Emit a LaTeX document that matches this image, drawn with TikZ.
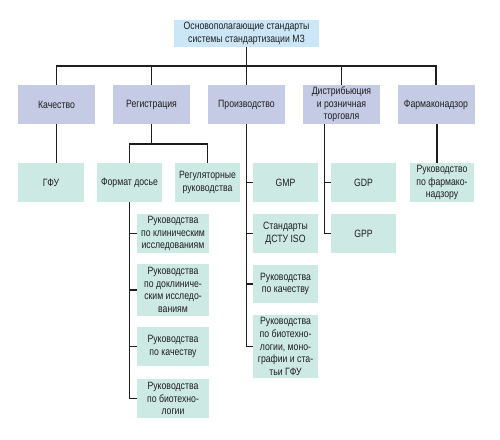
\documentclass[tikz,border=0pt]{standalone}
\usepackage{fontspec}
\newfontfamily\cond{Liberation Sans}[FakeStretch=0.82]
\definecolor{topc}{HTML}{CBE6F6}
\definecolor{lvtwo}{HTML}{C5CBE5}
\definecolor{lvthree}{HTML}{CDE9E3}
\definecolor{ink}{HTML}{1E1E1E}
\begin{document}
\begin{tikzpicture}[x=1pt,y=-1pt,
  box/.style={inner sep=0pt, align=center, text=ink,
    font=\cond\fontsize{10.6}{12.6}\selectfont},
  topbox/.style={box, fill=topc, minimum width=145pt, minimum height=27pt},
  twobox/.style={box, fill=lvtwo, minimum width=77pt, minimum height=39pt},
  threebox/.style={box, fill=lvthree, minimum height=39pt},
  conn/.style={draw=ink, line width=1.5pt}]
\useasboundingbox (0,0) rectangle (500,439);

\node[topbox] (top) at (246.5,33.5) {Основополагающие стандарты\\системы стандартизации МЗ};

\node[twobox] (kach) at (56.5,104.5) {Качество};
\node[twobox] (reg) at (151.5,104.5) {Регистрация};
\node[twobox] (proiz) at (246.5,104.5) {Производство};
\node[twobox] (dist) at (341.5,104.5) {Дистрибьюция\\и розничная\\торговля};
\node[twobox] (farm) at (436,104.5) {Фармаконадзор};

\node[threebox, minimum width=66pt] (gfu) at (51,182.5) {ГФУ};
\node[threebox, minimum width=65pt] (fmt) at (129.5,182.5) {Формат досье};
\node[threebox, minimum width=65pt] (rgl) at (207.5,182.5) {Регуляторные\\руководства};
\node[threebox, minimum width=65pt] (gmp) at (285.5,182.5) {GMP};
\node[threebox, minimum width=65pt] (gdp) at (363.5,182.5) {GDP};
\node[threebox, minimum width=64pt] (fv) at (442,182.5) {Руководство\\по фармако-\\надзору};

\node[threebox, minimum width=72pt] (fa) at (173,233.5) {Руководства\\по клиническим\\исследованиям};
\node[threebox, minimum width=72pt, minimum height=52pt] (fb) at (173,290) {Руководства\\по доклиниче-\\ским исследо-\\ваниям};
\node[threebox, minimum width=72pt] (fc) at (173,346.5) {Руководства\\по качеству};
\node[threebox, minimum width=72pt] (fd) at (173,398.5) {Руководства\\по биотехно-\\логии};

\node[threebox, minimum width=65pt] (pb) at (285.5,233.5) {Стандарты\\ДСТУ ISO};
\node[threebox, minimum width=65pt, minimum height=38pt] (pc) at (285.5,284) {Руководства\\по качеству};
\node[threebox, minimum width=65pt, minimum height=63pt] (pd) at (285.5,346.5) {Руководства\\по биотехно-\\логии, моно-\\графии и ста-\\тьи ГФУ};

\node[threebox, minimum width=65pt] (gpp) at (363.5,233.5) {GPP};

\coordinate (bus) at (0,66);
\coordinate (split) at (0,144);
\coordinate (dx) at (324.5,124);
\coordinate (fx) at (437,124);

% top bus
\draw[conn] (top.south) -- (top.south |- bus);
\draw[conn] (kach.north) |- (farm.north |- bus) -- (farm.north);
\draw[conn] (reg.north) -- (reg.north |- bus);
\draw[conn] (proiz.north) -- (proiz.north |- bus);
\draw[conn] (dist.north) -- (dist.north |- bus);

% Качество
\draw[conn] (kach.south) -- (kach.south |- gfu.north);

% Регистрация
\draw[conn] (reg.south) -- (reg.south |- split);
\draw[conn] (fmt.north) |- (rgl.north |- split) -- (rgl.north);
\draw[conn] (fmt.south) |- (fd.west);
\draw[conn] (fa.west) -- (fa.west -| fmt.south);
\draw[conn] (fb.west) -- (fb.west -| fmt.south);
\draw[conn] (fc.west) -- (fc.west -| fmt.south);

% Производство
\draw[conn] (proiz.south) |- (pd.west);
\draw[conn] (gmp.west) -- (gmp.west -| proiz.south);
\draw[conn] (pb.west) -- (pb.west -| proiz.south);
\draw[conn] (pc.west) -- (pc.west -| proiz.south);

% Дистрибьюция
\draw[conn] (dx) |- (gpp.west);
\draw[conn] (gdp.west) -- (gdp.west -| dx);

% Фармаконадзор
\draw[conn] (fx) -- (fx |- fv.north);
\end{tikzpicture}
\end{document}
